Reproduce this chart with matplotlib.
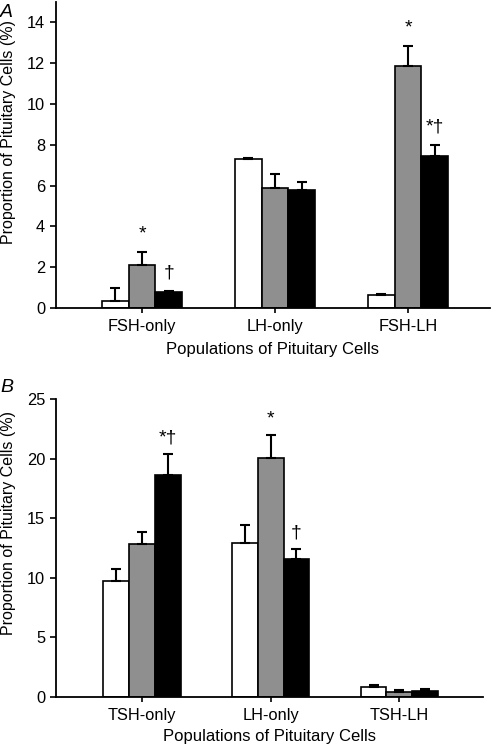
import numpy as np
import matplotlib
matplotlib.use("Agg")
import matplotlib.pyplot as plt

plt.rcParams['font.family'] = ['Liberation Sans', 'DejaVu Sans']

# Panel A: gonadotrope populations
cats_a = ["FSH-only", "LH-only", "FSH-LH"]
white_a = [0.32, 7.28, 0.64]
white_a_err = [0.68, 0.05, 0.05]
gray_a = [2.1, 5.86, 11.86]
gray_a_err = [0.64, 0.73, 0.96]
black_a = [0.76, 5.78, 7.47]
black_a_err = [0.06, 0.40, 0.54]
marks_a = {(0, 1): "*", (0, 2): "\u2020", (2, 1): "*", (2, 2): "*\u2020"}

# Panel B: thyrotrope / LH populations
cats_b = ["TSH-only", "LH-only", "TSH-LH"]
white_b = [9.72, 12.89, 0.79]
white_b_err = [1.05, 1.54, 0.22]
gray_b = [12.83, 20.08, 0.42]
gray_b_err = [1.01, 1.9, 0.18]
black_b = [18.65, 11.54, 0.5]
black_b_err = [1.72, 0.84, 0.12]
marks_b = {(0, 2): "*\u2020", (1, 1): "*", (1, 2): "\u2020"}

colors = ["white", "#8f8f8f", "black"]
W = 496
H = 750
fig = plt.figure(figsize=(W / 100, H / 100), dpi=100)


def panel(rect, cats, series, errs, marks, ylim, yticks, xlim, letter, ann_off):
    ax = fig.add_axes(rect)
    x = np.arange(len(cats))
    width = 0.2
    for i, (vals, err, c) in enumerate(zip(series, errs, colors)):
        pos = x + (i - 1) * width
        ax.bar(pos, vals, width, color=c, edgecolor="black", linewidth=1.2, zorder=2)
        ax.errorbar(pos, vals, yerr=[np.zeros(len(vals)), err], fmt="none",
                    ecolor="black", elinewidth=1.5, capsize=3.6, capthick=1.5, zorder=3)
    for (ci, si), txt in marks.items():
        top = series[si][ci] + errs[si][ci]
        ax.annotate(txt, (x[ci] + (si - 1) * width, top), xytext=(0, ann_off),
                    textcoords="offset points", ha="center", va="center", fontsize=14)
    ax.set_xlim(*xlim)
    ax.set_ylim(*ylim)
    ax.set_yticks(yticks)
    ax.set_xticks(x)
    ax.set_xticklabels(cats, fontsize=11.8)
    ax.tick_params(axis="y", labelsize=11.8, length=4.3, width=1.2, pad=3.5)
    ax.tick_params(axis="x", length=3.6, width=1.2, pad=4.5)
    for s in ["top", "right"]:
        ax.spines[s].set_visible(False)
    for s in ["left", "bottom"]:
        ax.spines[s].set_linewidth(1.3)
    ax.set_xlabel("Populations of Pituitary Cells", fontsize=12)
    ax.set_ylabel("Proportion of Pituitary Cells (%)", fontsize=11.5)
    ax.xaxis.set_label_coords(0.5, -0.11)
    ax.text(-0.113, 1.0, letter, transform=ax.transAxes, fontsize=14,
            style="italic", ha="center", va="center")
    return ax


ax_a = panel([56 / W, 1 - 308 / H, 434 / W, 306 / H], cats_a,
             [white_a, gray_a, black_a], [white_a_err, gray_a_err, black_a_err],
             marks_a, (0, 15), np.arange(0, 15, 2), (-0.647, 2.616), "A", 13)
ax_a.yaxis.set_label_coords(-0.092, 0.575)
ax_a.texts[-1].set_position((-0.113, 0.965))

ax_b = panel([56 / W, 1 - 696.7 / H, 427 / W, 297.4 / H], cats_b,
             [white_b, gray_b, black_b], [white_b_err, gray_b_err, black_b_err],
             marks_b, (0, 25), np.arange(0, 26, 5), (-0.668, 2.65), "B", 11.5)
ax_b.yaxis.set_label_coords(-0.094, 0.584)
ax_b.texts[-1].set_position((-0.115, 1.04))

fig.savefig("out.png", dpi=100)
